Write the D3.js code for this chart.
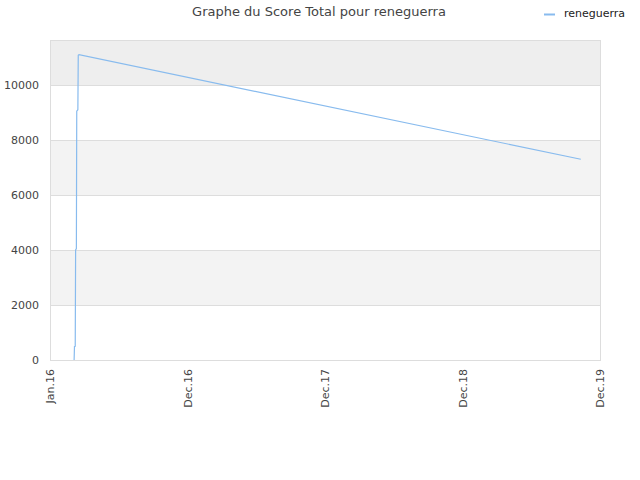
<!DOCTYPE html>
<html>
<head>
<meta charset="utf-8">
<script src="https://cdn.jsdelivr.net/npm/d3@7"></script>
<style>
body { margin: 0; background: #fff; }
text { font-family: "DejaVu Sans", sans-serif; }
</style>
</head>
<body>
<svg width="640" height="480"></svg>
<script>
// donnees
let dates = ["2016-03-05", "2016-03-06", "2016-03-08", "2016-03-09", "2016-03-11", "2016-03-12",
             "2016-03-15", "2016-03-16", "2016-03-18", "2019-11-10"];
let scores = [0, 490, 500, 4000, 4050, 9050, 9100, 11080, 11100, 7300];
let tickDates = ["2016-01-01", "2016-12-31", "2017-12-31", "2018-12-31", "2019-12-31"];
let tickLabels = ["Jan.16", "Dec.16", "Dec.17", "Dec.18", "Dec.19"];
let yTicks = [0, 2000, 4000, 6000, 8000, 10000];
let serie = "reneguerra";

let parse = d3.timeParse("%Y-%m-%d");
let svg = d3.select("svg");
let mLeft = 50, mRight = 600, mTop = 40, mBottom = 360;

let x = d3.scaleTime()
    .domain([parse(tickDates[0]), parse(tickDates[4])])
    .range([mLeft, mRight]);
let y = d3.scaleLinear().domain([0, 11636]).range([mBottom, mTop]);

// bandes
let bands = [[2000, 4000, "#f3f3f3"], [6000, 8000, "#f3f3f3"], [10000, 11636, "#eeeeee"]];
svg.selectAll("rect.band").data(bands).enter().append("rect")
    .attr("x", mLeft).attr("width", mRight - mLeft)
    .attr("y", d => y(d[1])).attr("height", d => y(d[0]) - y(d[1]))
    .attr("fill", d => d[2]);

svg.selectAll("line.grid").data(yTicks.slice(1)).enter().append("line")
    .attr("x1", mLeft).attr("x2", mRight)
    .attr("y1", d => y(d) + 0.5).attr("y2", d => y(d) + 0.5)
    .attr("stroke", "#dddddd");

svg.append("rect").attr("x", mLeft + 0.5).attr("y", mTop + 0.5)
    .attr("width", mRight - mLeft).attr("height", mBottom - mTop)
    .attr("fill", "none").attr("stroke", "#dddddd");

svg.selectAll("text.ytick").data(yTicks).enter().append("text")
    .attr("x", 39).attr("y", d => y(d) + 4)
    .attr("text-anchor", "end").attr("font-size", 11).attr("fill", "#444")
    .text(d => d);

svg.selectAll("text.xtick").data(tickDates).enter().append("text")
    .attr("transform", d => "translate(" + (x(parse(d)) + 4) + ",369) rotate(-90)")
    .attr("text-anchor", "end").attr("font-size", 11).attr("fill", "#444")
    .text((d, i) => tickLabels[i]);

let pts = dates.map((d, i) => [parse(d), scores[i]]);
let line = d3.line().x(d => x(d[0])).y(d => y(d[1]));
svg.append("path").attr("d", line(pts))
    .attr("fill", "none").attr("stroke", "#88bbee").attr("stroke-width", 1.2);

svg.append("text").attr("x", 319).attr("y", 16)
    .attr("text-anchor", "middle").attr("font-size", 13).attr("fill", "#444")
    .text("Graphe du Score Total pour " + serie);

svg.append("line").attr("x1", 544).attr("x2", 555).attr("y1", 14.5).attr("y2", 14.5)
    .attr("stroke", "#88bbee").attr("stroke-width", 2);
svg.append("text").attr("x", 564).attr("y", 17)
    .attr("font-size", 11).attr("fill", "#222")
    .text(serie);
</script>
</body>
</html>
